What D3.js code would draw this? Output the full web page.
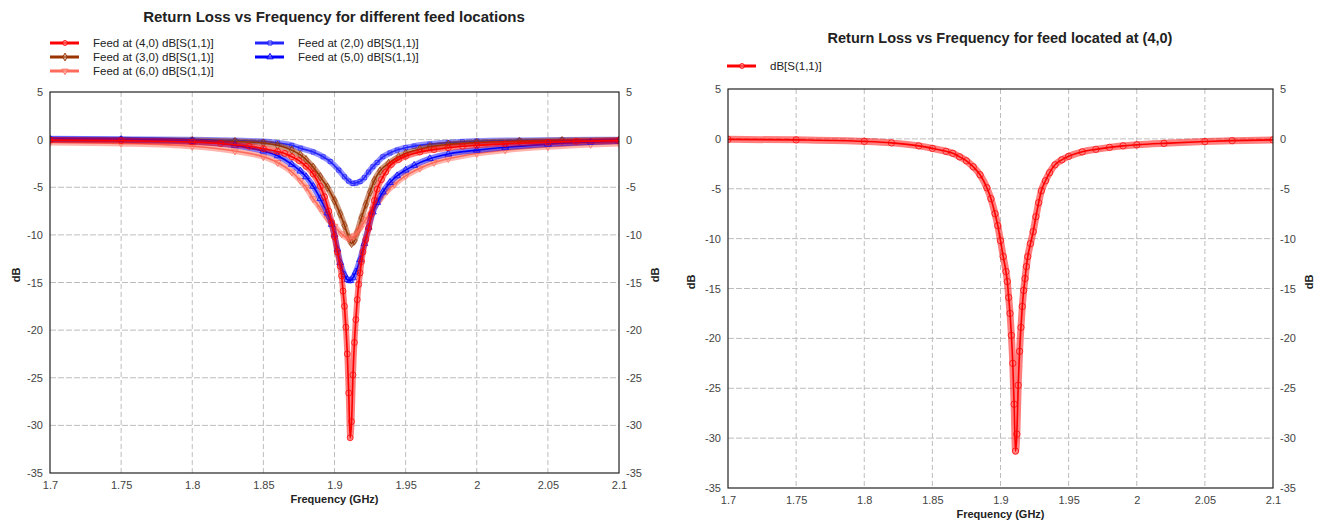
<!DOCTYPE html>
<html><head><meta charset="utf-8">
<script src="https://cdn.jsdelivr.net/npm/d3@7"></script>
<style>
html,body{margin:0;padding:0;background:#fff;}
svg{display:block;font-family:"Liberation Sans",Arial,sans-serif;}
</style></head>
<body><svg id="c" width="1323" height="527"></svg>
<script>
// ---------------- DATA ----------------
const xTicks = [1.7, 1.75, 1.8, 1.85, 1.9, 1.95, 2.0, 2.05, 2.1];
const xTickLabels = ["1.7","1.75","1.8","1.85","1.9","1.95","2","2.05","2.1"];
const yTicks = [5, 0, -5, -10, -15, -20, -25, -30, -35];
const yTickLabels = ["5","0","-5","-10","-15","-20","-25","-30","-35"];

const seriesNames = ["Feed at (4,0) dB[S(1,1)]","Feed at (3,0) dB[S(1,1)]","Feed at (6,0) dB[S(1,1)]","Feed at (2,0) dB[S(1,1)]","Feed at (5,0) dB[S(1,1)]"];

// Feed at (4,0)
const freq40 = [1.70,1.75,1.80,1.82,1.84,1.85,1.86,1.865,1.87,1.875,1.88,1.885,1.89,1.893,1.896,1.898,1.900,1.902,1.904,1.905,1.906,1.907,1.908,1.909,1.910,1.911,1.912,1.913,1.914,1.915,1.916,1.917,1.918,1.919,1.920,1.922,1.924,1.926,1.928,1.930,1.933,1.936,1.940,1.945,1.950,1.960,1.970,1.980,1.990,2.000,2.020,2.050,2.070,2.100];
const db40   = [-0.05,-0.1,-0.25,-0.4,-0.7,-0.95,-1.25,-1.45,-1.8,-2.2,-2.8,-3.6,-4.9,-6.0,-7.5,-8.7,-10.2,-11.8,-13.3,-14.3,-15.9,-17.5,-19.7,-22.5,-26.6,-31.3,-29.6,-24.7,-21.3,-18.9,-16.8,-15.2,-14.0,-12.8,-11.8,-10.5,-9.3,-7.8,-6.4,-5.2,-4.2,-3.4,-2.6,-2.1,-1.75,-1.3,-1.05,-0.85,-0.7,-0.6,-0.45,-0.27,-0.18,-0.1];

// Feed at (3,0)
const freq30 = [1.70,1.75,1.80,1.83,1.85,1.86,1.87,1.876,1.88,1.885,1.89,1.895,1.900,1.904,1.907,1.910,1.912,1.914,1.916,1.919,1.922,1.925,1.928,1.932,1.938,1.945,1.950,1.960,1.967,1.980,2.000,2.030,2.060,2.100];
const db30   = [-0.05,-0.05,-0.1,-0.2,-0.35,-0.6,-1.1,-1.6,-2.1,-2.9,-3.9,-5.0,-6.4,-7.8,-9.0,-10.3,-10.9,-10.6,-9.7,-8.2,-6.8,-5.5,-4.3,-3.3,-2.5,-1.8,-1.45,-1.0,-0.75,-0.5,-0.3,-0.18,-0.1,-0.05];

// Feed at (6,0)
const freq60 = [1.70,1.75,1.80,1.83,1.85,1.86,1.87,1.876,1.88,1.885,1.89,1.895,1.900,1.905,1.910,1.914,1.918,1.922,1.927,1.932,1.937,1.942,1.950,1.960,1.970,1.980,2.000,2.020,2.050,2.080,2.100];
const db60   = [-0.3,-0.4,-0.7,-1.2,-1.8,-2.4,-3.4,-4.3,-5.0,-6.2,-7.2,-8.3,-9.1,-9.9,-10.4,-10.1,-9.3,-8.4,-7.3,-6.3,-5.4,-4.7,-3.8,-3.0,-2.4,-2.0,-1.45,-1.1,-0.75,-0.5,-0.4];

// Feed at (2,0)
const freq20 = [1.70,1.75,1.80,1.83,1.85,1.86,1.87,1.876,1.885,1.892,1.897,1.903,1.907,1.910,1.913,1.915,1.918,1.921,1.924,1.927,1.930,1.934,1.939,1.944,1.950,1.956,1.967,1.980,1.990,2.000,2.030,2.060,2.100];
const db20   = [0.1,0.05,0.0,-0.1,-0.2,-0.35,-0.6,-0.9,-1.3,-1.8,-2.3,-3.2,-3.9,-4.35,-4.6,-4.55,-4.4,-4.0,-3.4,-2.85,-2.4,-1.8,-1.4,-1.1,-0.85,-0.68,-0.47,-0.32,-0.23,-0.15,-0.08,-0.03,0.0];

// Feed at (5,0)
const freq50 = [1.70,1.75,1.80,1.83,1.85,1.86,1.87,1.876,1.88,1.885,1.89,1.895,1.898,1.900,1.902,1.904,1.907,1.909,1.911,1.913,1.915,1.918,1.921,1.924,1.927,1.930,1.934,1.939,1.944,1.950,1.956,1.967,1.980,2.000,2.020,2.050,2.080,2.100];
const db50   = [0.05,0.0,-0.2,-0.6,-1.2,-1.7,-2.6,-3.3,-3.9,-4.9,-6.2,-7.7,-8.9,-10.0,-11.5,-12.9,-14.2,-14.7,-14.8,-14.5,-13.9,-12.6,-10.9,-9.2,-7.6,-6.6,-5.5,-4.5,-3.8,-3.2,-2.7,-2.0,-1.5,-1.1,-0.8,-0.47,-0.25,-0.15];

// ---------------- DRAW ----------------
const svg = d3.select("#c");
svg.append("rect").attr("width",1323).attr("height",527).attr("fill","#fff");

const left = {x0:50,x1:619,y0:92,y1:473};
const right = {x0:728,x1:1273,y0:89,y1:488};

const zip = (f,v) => f.map((d,i)=>({f:d,v:v[i]}));
const S = [
  {name:seriesNames[3], data:zip(freq20,db20), color:"#2424ff", marker:"square", r:2.4},
  {name:seriesNames[1], data:zip(freq30,db30), color:"#993300", marker:"diamond", r:2.6},
  {name:seriesNames[2], data:zip(freq60,db60), color:"#ff6b5a", marker:"tridown", r:2.6},
  {name:seriesNames[4], data:zip(freq50,db50), color:"#0000ff", marker:"triangle", r:2.6},
  {name:seriesNames[0], data:zip(freq40,db40), color:"#ff0000", marker:"circle", r:3}
];

function markerPath(type, r){
  if(type==="circle") return d3.symbol(d3.symbolCircle, Math.PI*r*r)();
  if(type==="square") return d3.symbol(d3.symbolSquare, (2*r)*(2*r)*0.7)();
  if(type==="diamond") return d3.symbol(d3.symbolDiamond, r*r*3)();
  if(type==="triangle") return d3.symbol(d3.symbolTriangle, r*r*3)();
  if(type==="tridown") return d3.symbol(d3.symbolTriangle, r*r*3)();
}

function drawPlot(box, series, opts, id){
  const x = d3.scaleLinear().domain([1.7,2.1]).range([box.x0,box.x1]);
  const y = d3.scaleLinear().domain([-35,5]).range([box.y1,box.y0]);
  const g = svg.append("g");
  g.selectAll(".vg").data(xTicks.slice(1,-1)).enter().append("line")
    .attr("x1",d=>x(d)).attr("x2",d=>x(d)).attr("y1",box.y0).attr("y2",box.y1)
    .attr("stroke","#bdbdbd").attr("stroke-dasharray","5,3").attr("stroke-width",1);
  g.selectAll(".hg").data(yTicks.slice(1,-1)).enter().append("line")
    .attr("x1",box.x0).attr("x2",box.x1).attr("y1",d=>y(d)).attr("y2",d=>y(d))
    .attr("stroke","#bdbdbd").attr("stroke-dasharray","6,2").attr("stroke-width",1);
  svg.append("clipPath").attr("id","clip"+id).append("rect")
    .attr("x",box.x0).attr("y",box.y0).attr("width",box.x1-box.x0).attr("height",box.y1-box.y0);
  const pg = g.append("g").attr("clip-path","url(#clip"+id+")");
  const line = d3.line().x(d=>x(d.f)).y(d=>y(d.v)).curve(d3.curveMonotoneX);
  series.forEach(s=>{
    pg.append("path").attr("d",line(s.data)).attr("fill","none")
      .attr("stroke",s.color).attr("stroke-opacity",0.5).attr("stroke-width",opts.band)
      .attr("stroke-linejoin","round").attr("stroke-linecap","round");
    pg.append("path").attr("d",line(s.data)).attr("fill","none")
      .attr("stroke",s.color).attr("stroke-width",1.6);
    pg.selectAll(null).data(s.data).enter().append("path")
      .attr("d",markerPath(s.marker,s.r))
      .attr("transform",d=>`translate(${x(d.f)},${y(d.v)})`+(s.marker==="tridown"?" rotate(180)":""))
      .attr("fill","none").attr("stroke",s.color).attr("stroke-opacity",0.75).attr("stroke-width",1);
  });
  g.append("rect").attr("x",box.x0).attr("y",box.y0).attr("width",box.x1-box.x0).attr("height",box.y1-box.y0)
    .attr("fill","none").attr("stroke","#222").attr("stroke-width",1.2);
  const ax = d3.axisBottom(x).tickValues(xTicks).tickSize(0).tickPadding(8).tickFormat((d,i)=>xTickLabels[i]);
  const ayl = d3.axisLeft(y).tickValues(yTicks).tickSize(0).tickPadding(7).tickFormat((d,i)=>yTickLabels[i]);
  const ayr = d3.axisRight(y).tickValues(yTicks).tickSize(0).tickPadding(7).tickFormat((d,i)=>yTickLabels[i]);
  [[ax,`translate(0,${box.y1})`],[ayl,`translate(${box.x0},0)`],[ayr,`translate(${box.x1},0)`]].forEach(([a,t])=>{
    const ag = svg.append("g").attr("transform",t).call(a);
    ag.select(".domain").remove();
    ag.selectAll("text").attr("fill","#444").style("font-size","11px").style("font-family","'Liberation Sans',Arial,sans-serif");
  });
  svg.append("text").attr("x",(box.x0+box.x1)/2).attr("y",box.y1+30).attr("text-anchor","middle")
    .style("font-size","11px").style("font-weight","bold").attr("fill","#222").text("Frequency (GHz)");
  [[box.x0-opts.dbOffL, opts.dbY],[box.x1+opts.dbOffR, opts.dbY]].forEach(([px,py])=>{
    svg.append("text").attr("transform",`translate(${px},${py}) rotate(-90)`)
      .attr("text-anchor","middle").style("font-size","11px").style("font-weight","bold").attr("fill","#222").text("dB");
  });
  return {x,y};
}

drawPlot(left, S, {band:6, dbOffL:30, dbOffR:40, dbY:275}, "L");
drawPlot(right, [{name:"dB[S(1,1)]", data:zip(freq40,db40), color:"#ff0000", marker:"circle", r:3.2}], {band:7, dbOffL:33, dbOffR:40, dbY:282}, "R");

svg.append("text").attr("x",334).attr("y",22).attr("text-anchor","middle")
  .style("font-size","15px").style("font-weight","bold").attr("fill","#222")
  .text("Return Loss vs Frequency for different feed locations");
svg.append("text").attr("x",1000).attr("y",43).attr("text-anchor","middle")
  .style("font-size","14.5px").style("font-weight","bold").attr("fill","#222")
  .text("Return Loss vs Frequency for feed located at (4,0)");

function legendItem(x, yy, color, marker, label){
  const g = svg.append("g");
  g.append("line").attr("x1",x).attr("x2",x+29).attr("y1",yy).attr("y2",yy).attr("stroke",color).attr("stroke-width",3);
  g.append("path").attr("d",markerPath(marker,2.4))
    .attr("transform",`translate(${x+15},${yy})`+(marker==="tridown"?" rotate(180)":""))
    .attr("fill","#fff").attr("fill-opacity",0.3).attr("stroke",color).attr("stroke-width",1);
  g.append("text").attr("x",x+43).attr("y",yy+4).style("font-size","11.5px").attr("fill","#222").text(label);
}
legendItem(50,43,"#ff0000","circle",seriesNames[0]);
legendItem(50,57,"#993300","diamond",seriesNames[1]);
legendItem(50,71,"#ff6b5a","tridown",seriesNames[2]);
legendItem(255,43,"#2424ff","square",seriesNames[3]);
legendItem(255,57,"#0000ff","triangle",seriesNames[4]);
legendItem(727,66,"#ff0000","circle","dB[S(1,1)]");
</script></body></html>
